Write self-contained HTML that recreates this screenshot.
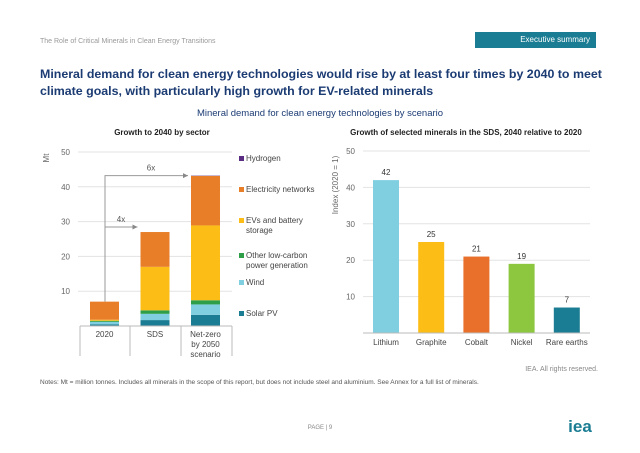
<!DOCTYPE html>
<html><head><meta charset="utf-8"><style>
body{margin:0;width:640px;height:453px;background:#fff;font-family:"Liberation Sans",sans-serif;overflow:hidden;position:relative}
.a{position:absolute;white-space:nowrap}
</style></head><body>
<div class="a" style="left:40px;top:38px;font-size:7px;color:#999">The Role of Critical Minerals in Clean Energy Transitions</div>
<div class="a" style="left:475px;top:32px;width:121px;height:16px;background:#1b7d93;color:#fff;font-size:8px;line-height:16px;text-align:right;padding-right:0"><span style="margin-right:6px">Executive summary</span></div>
<div class="a" style="left:40px;top:66px;font-size:12.4px;font-weight:bold;color:#1b3b73;line-height:17px;white-space:normal;width:565px">Mineral demand for clean energy technologies would rise by at least four times by 2040 to meet climate goals, with particularly high growth for EV-related minerals</div>
<div class="a" style="left:0;width:640px;text-align:center;top:108px;font-size:9.5px;color:#1b3b73">Mineral demand for clean energy technologies by scenario</div>
<svg class="a" style="left:0;top:0" width="640" height="453">
<g font-family="Liberation Sans, sans-serif">
<text x="162" y="135" font-size="8" font-weight="bold" text-anchor="middle" fill="#222">Growth to 2040 by sector</text>
<text x="466" y="135" font-size="8" font-weight="bold" text-anchor="middle" fill="#222">Growth of selected minerals in the SDS, 2040 relative to 2020</text>
<g id="L"></g><g id="R"></g>
<text x="40" y="384" font-size="6.5" fill="#555">Notes: Mt = million tonnes. Includes all minerals in the scope of this report, but does not include steel and aluminium. See Annex for a full list of minerals.</text>
<text x="598" y="371" font-size="7" fill="#888" text-anchor="end">IEA. All rights reserved.</text>
<text x="320" y="429" font-size="6" fill="#888" text-anchor="middle">PAGE | 9</text>
<text x="580" y="432" font-size="17" font-weight="bold" fill="#1b7d93" text-anchor="middle">iea</text>
</g></svg>
<script>
const sectors=["Solar PV","Wind","Other low-carbon power generation","EVs and battery storage","Electricity networks","Hydrogen"];
const scenarios=["2020","SDS","Net-zero by 2050 scenario"];
const solar=[0.5,1.7,3.2], wind=[0.7,1.8,3.0], other=[0.3,1.0,1.2], evs=[0.3,12.5,21.5], networks=[5.2,10.0,14.2], hydrogen=[0,0,0.1];
const leftTicks=[10,20,30,40,50];
const minerals=["Lithium","Graphite","Cobalt","Nickel","Rare earths"];
const growth=[42,25,21,19,7];
const rightTicks=[10,20,30,40,50];
const NS="http://www.w3.org/2000/svg";
function mk(p,t,a,txt){const e=document.createElementNS(NS,t);for(const k in a)e.setAttribute(k,a[k]);if(txt!=null)e.textContent=txt;p.appendChild(e);return e;}
const L=document.getElementById('L'),R=document.getElementById('R');
const yL=v=>326-v*3.48, yR=v=>333-v*3.64;
const sc=["#1b7d93","#7fcfe0","#2e9e48","#fbbd16","#e87e28","#5b2d82"];
const series=[solar,wind,other,evs,networks,hydrogen];
leftTicks.forEach(t=>{let g=mk(L,'line',{x1:78,x2:232,y1:yL(t),y2:yL(t),stroke:'#e3e3e3','stroke-width':1});
let tx=mk(L,'text',{x:70,y:yL(t)+3,'font-size':8,fill:'#666','text-anchor':'end'},t);});
let mt=mk(L,'text',{x:0,y:0,'font-size':8,fill:'#666',transform:'translate(49,158) rotate(-90)','text-anchor':'middle'},'Mt');

const bw=29, bx=i=>90+i*50.5;
scenarios.forEach((s,i)=>{let cum=0;series.forEach((ser,k)=>{const v=ser[i];if(v<=0)return;const r=mk(L,'rect',{x:bx(i),y:yL(cum+v),width:bw,height:yL(cum)-yL(cum+v),fill:sc[k]});cum+=v;});
const lines=s==="Net-zero by 2050 scenario"?["Net-zero","by 2050","scenario"]:[s];
lines.forEach((ln,j)=>{let t=mk(L,'text',{x:bx(i)+bw/2,y:337+j*10,'font-size':8,fill:'#444','text-anchor':'middle'},ln);});});
[80,130,181,232].forEach(x=>{let l=mk(L,'line',{x1:x,x2:x,y1:326,y2:356,stroke:'#bbb'});});
let ax=mk(L,'line',{x1:80,x2:232,y1:326,y2:326,stroke:'#bbb'});
const tot=i=>series.reduce((a,s)=>a+s[i],0);
const ay6=yL(tot(2));
let ar=mk(L,'path',{d:`M105 ${yL(tot(0))} V${ay6} H${bx(2)-3} M105 ${yL(27.3)-4} H${bx(1)-3}`,stroke:'#999',fill:'none','stroke-width':1});

[[bx(2)-3,ay6],[bx(1)-3,yL(27.3)-4]].forEach(([x,y])=>{let p=mk(L,'path',{d:`M${x} ${y} l-5 -2.5 v5z`,fill:'#888'});});
let t6=mk(L,'text',{x:151,y:ay6-5,'font-size':8,fill:'#555','text-anchor':'middle'},'6x');
let t4=mk(L,'text',{x:121,y:yL(27.3)-9,'font-size':8,fill:'#555','text-anchor':'middle'},'4x');
const legY=[161,192,223,258,285,316];
const legText=[["Hydrogen"],["Electricity networks"],["EVs and battery","storage"],["Other low-carbon","power generation"],["Wind"],["Solar PV"]];
const legCol=[5,4,3,2,1,0];
legText.forEach((lines,i)=>{let r=mk(L,'rect',{x:239,y:legY[i]-5,width:5,height:5,fill:sc[legCol[i]]});
lines.forEach((ln,j)=>{let t=mk(L,'text',{x:246,y:legY[i]+j*10,'font-size':8,fill:'#444'},ln);});});
rightTicks.forEach(t=>{let g=mk(R,'line',{x1:363,x2:590,y1:yR(t),y2:yR(t),stroke:'#e3e3e3'});
let tx=mk(R,'text',{x:355,y:yR(t)+3,'font-size':8,fill:'#666','text-anchor':'end'},t);});
let it=mk(R,'text',{x:0,y:0,'font-size':8,fill:'#666',transform:'translate(338,185) rotate(-90)','text-anchor':'middle'},'Index (2020 = 1)');

const mc=["#7fcfe0","#fbbd16","#e8702a","#8dc63f","#1b7d93"];
minerals.forEach((m,i)=>{const x=373+i*45.2;let r=mk(R,'rect',{x:x,y:yR(growth[i]),width:26,height:333-yR(growth[i]),fill:mc[i]});
let v=mk(R,'text',{x:x+13,y:yR(growth[i])-5,'font-size':8,fill:'#333','text-anchor':'middle'},growth[i]);
let c=mk(R,'text',{x:x+13,y:345,'font-size':8,fill:'#444','text-anchor':'middle'},m);});
let rx=mk(R,'line',{x1:363,x2:590,y1:333,y2:333,stroke:'#bbb'});
</script>
</body></html>
